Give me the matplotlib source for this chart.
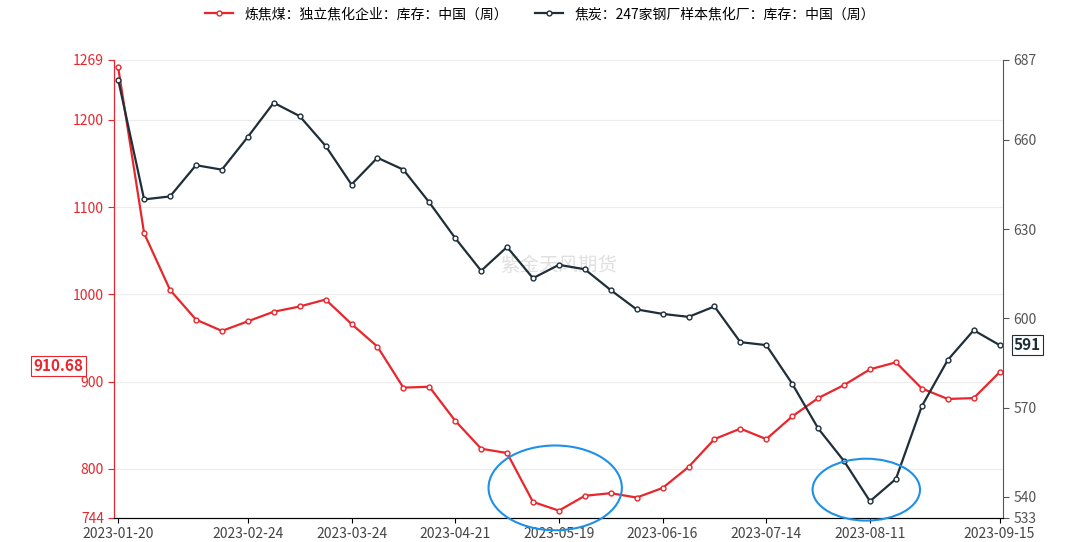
import pandas as pd
import matplotlib.pyplot as plt
from matplotlib.patches import Ellipse

plt.rcParams["font.family"] = ["Noto Sans CJK SC", "DejaVu Sans"]

dates = pd.date_range("2023-01-20", "2023-09-15", freq="7D")
coking_coal = [1260, 1070, 1005, 971, 958, 969, 980, 986, 994, 966, 940, 893, 894, 855,
               823, 818, 762, 752, 769, 772, 767, 778, 802, 834, 846, 834, 860, 881,
               896, 914, 922, 892, 880, 881, 910.68]
coke = [680.3, 640, 641, 651.5, 650, 661, 672.5, 668, 658, 645, 654, 650, 639, 627,
        616, 624, 613.5, 618, 616.5, 609.5, 603, 601.5, 600.5, 604, 592, 591, 578, 563,
        552, 538.5, 546, 570.5, 586, 596, 591]
left_ticks = [744, 800, 900, 1000, 1100, 1200, 1269]
right_ticks = [533, 540, 570, 600, 630, 660, 687]
x_ticks = ["2023-01-20", "2023-02-24", "2023-03-24", "2023-04-21", "2023-05-19",
           "2023-06-16", "2023-07-14", "2023-08-11", "2023-09-15"]

RED = "#e8262c"
DARK = "#1f2f3a"

fig, ax = plt.subplots(figsize=(10.8, 5.42), dpi=100)
fig.subplots_adjust(left=0.106, right=0.929, top=0.89, bottom=0.045)
ax2 = ax.twinx()

ax.plot(dates, coking_coal, color=RED, lw=1.6, marker="o", ms=3.5, mfc="white", mew=1,
        label="炼焦煤：独立焦化企业：库存：中国（周）")
ax2.plot(dates, coke, color=DARK, lw=1.6, marker="o", ms=3.5, mfc="white", mew=1,
         label="焦炭：247家钢厂样本焦化厂：库存：中国（周）")

ax.set_ylim(744, 1269)
ax2.set_ylim(533, 687)
ax.set_yticks(left_ticks)
ax2.set_yticks(right_ticks)
ax.tick_params(axis="y", colors=RED, labelsize=10, length=4)
ax2.tick_params(axis="y", colors="#555555", labelsize=10, length=4)
ax.spines["left"].set_color(RED)
ax2.spines["left"].set_color(RED)
ax2.spines["right"].set_color("#555555")
ax.spines["top"].set_visible(False)
ax2.spines["top"].set_visible(False)
ax.spines["right"].set_visible(False)
ax.spines["bottom"].set_color("#555555")
ax.set_xlim(dates[0] - pd.Timedelta(days=1), dates[-1] + pd.Timedelta(days=1))
ax.set_xticks(pd.to_datetime(x_ticks))
ax.set_xticklabels(x_ticks, fontsize=10, color="#444444")
ax.grid(axis="y", color="#ececec", lw=0.8)

ax.text(-0.035, (918 - 744) / 525, "910.68", transform=ax.transAxes, ha="right",
        va="center", color=RED, fontsize=11, fontweight="bold",
        bbox=dict(boxstyle="square,pad=0.15", fc="white", ec=RED, lw=0.8))
ax2.text(1.012, (591 - 533) / 154, "591", transform=ax2.transAxes, ha="left",
         va="center", color=DARK, fontsize=11, fontweight="bold",
         bbox=dict(boxstyle="square,pad=0.15", fc="white", ec=DARK, lw=0.8))

ax.text(0.5, 0.55, "紫金天风期货", transform=ax.transAxes, fontsize=14, color="#cccccc",
        alpha=0.6, ha="center", va="center")

# highlight circles (drawn on the right axis so nothing covers them)
ax2.add_patch(Ellipse((pd.Timestamp("2023-05-18"), 543), 36, 28.5, fill=False,
                      ec="#1e90e8", lw=1.5, clip_on=False, zorder=5))
ax2.add_patch(Ellipse((pd.Timestamp("2023-08-10"), 542.4), 29, 20.8, fill=False,
                      ec="#1e90e8", lw=1.5, clip_on=False, zorder=5))

h1, l1 = ax.get_legend_handles_labels()
h2, l2 = ax2.get_legend_handles_labels()
fig.legend(h1 + h2, l1 + l2, loc="upper center", ncol=2, frameon=False, fontsize=10,
           bbox_to_anchor=(0.5, 1.01), handlelength=2)

plt.savefig("out.png")
